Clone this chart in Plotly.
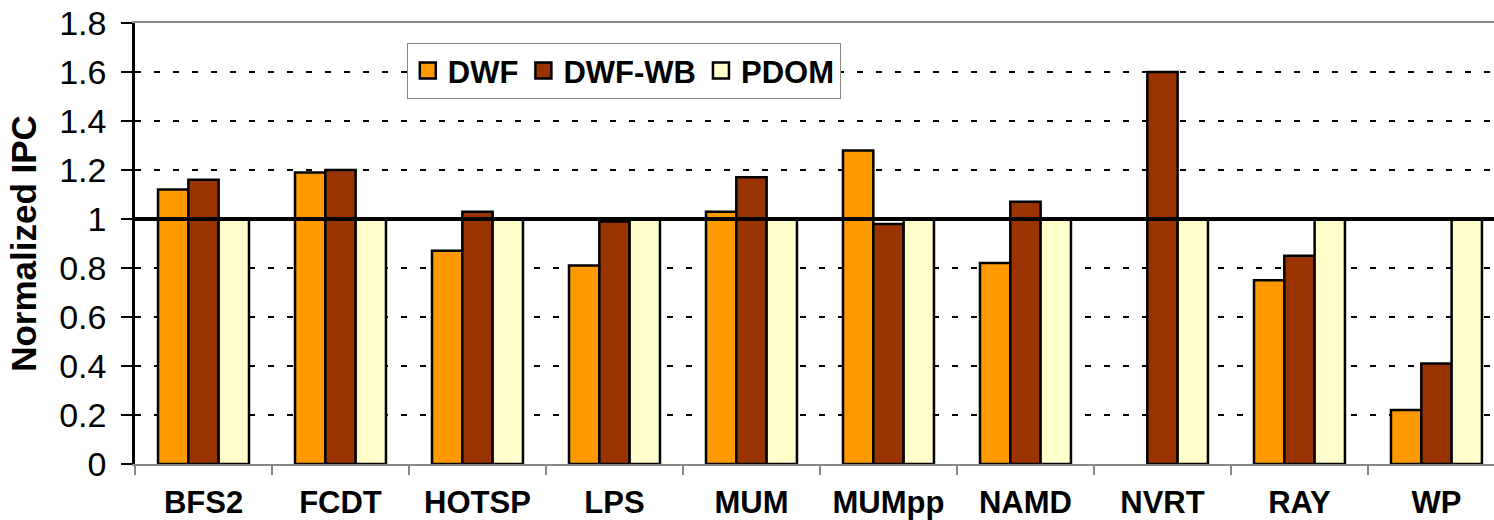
import plotly.graph_objects as go

# Benchmarks and normalized IPC per scheme
benchmarks = ["BFS2", "FCDT", "HOTSP", "LPS", "MUM", "MUMpp", "NAMD", "NVRT", "RAY", "WP"]
dwf = [1.12, 1.19, 0.87, 0.81, 1.03, 1.28, 0.82, None, 0.75, 0.22]
dwf_wb = [1.16, 1.20, 1.03, 0.99, 1.17, 0.98, 1.07, 1.60, 0.85, 0.41]
pdom = [1.0, 1.0, 1.0, 1.0, 1.0, 1.0, 1.0, 1.0, 1.0, 1.0]

series = [("DWF", dwf, "#FF9900"), ("DWF-WB", dwf_wb, "#993300"), ("PDOM", pdom, "#FFFFCC")]
y_ticks = [0, 0.2, 0.4, 0.6, 0.8, 1, 1.2, 1.4, 1.6, 1.8]
y_ticktext = ["0", "0.2", "0.4", "0.6", "0.8", "1", "1.2", "1.4", "1.6", "1.8"]

FONT = "Liberation Sans, Arial, Helvetica, sans-serif"

fig = go.Figure()
for name, vals, color in series:
    fig.add_trace(go.Bar(
        x=benchmarks, y=vals, name=name, showlegend=False,
        marker=dict(color=color, line=dict(color="black", width=2.5)),
    ))
    # legend entry with a larger square swatch
    fig.add_trace(go.Scatter(
        x=[None], y=[None], mode="markers", name=name,
        marker=dict(symbol="square", size=16, color=color,
                    line=dict(color="black", width=2.5)),
    ))

# baseline reference at 1.0
fig.add_shape(type="line", xref="paper", yref="y", x0=0, x1=1, y0=1, y1=1,
              line=dict(color="black", width=4), layer="above")

fig.update_layout(
    width=1494, height=520,
    margin=dict(l=135, r=0, t=23, b=53),
    paper_bgcolor="white", plot_bgcolor="white",
    font=dict(family=FONT, color="black"),
    barmode="group", bargap=0.336, bargroupgap=0,
    legend=dict(
        orientation="h", x=0.2, y=0.955, xanchor="left", yanchor="top",
        bgcolor="white", bordercolor="#888888", borderwidth=1,
        font=dict(size=31, weight="bold", family=FONT),
        itemwidth=30, tracegroupgap=0,
    ),
    xaxis=dict(
        type="category", range=[-0.5, 9.42],
        showline=True, linecolor="#888888", linewidth=2, mirror=True,
        ticks="outside", tickson="boundaries", ticklen=9, tickwidth=1.5,
        tickcolor="#888888", showgrid=False,
        tickfont=dict(size=31, weight="bold", family=FONT),
        ticklabelstandoff=10,
    ),
    yaxis=dict(
        range=[0, 1.8], tickvals=y_ticks, ticktext=y_ticktext,
        showline=True, linecolor="black", linewidth=2.5,
        ticks="outside", ticklen=11, tickwidth=2, tickcolor="black",
        showgrid=True, gridcolor="black", gridwidth=2, griddash="6px,13px",
        zeroline=False,
        tickfont=dict(size=34, family=FONT),
        ticklabelstandoff=8,
        title=dict(text="Normalized IPC", standoff=12,
                   font=dict(size=35, weight="bold", family=FONT)),
    ),
)

fig.write_html("out.html")
